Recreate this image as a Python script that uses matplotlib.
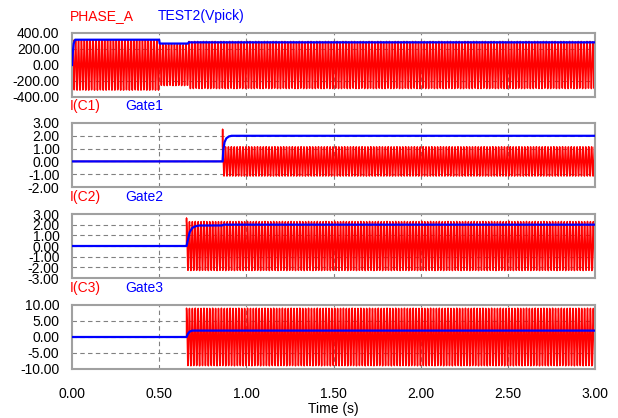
import numpy as np
import matplotlib
matplotlib.use("Agg")
from matplotlib import pyplot as plt

plt.rcParams['font.family'] = ['Liberation Sans', 'DejaVu Sans']
plt.rcParams['font.size'] = 10

# carrier of the oscillating currents / voltage
f_hz = 60.0
t_end = 3.0
step = 0.001

# panel 1: PHASE_A envelope (segment start times, peak values)
phase_seg_t = [0.0, 0.5, 0.665]
phase_seg_amp = [315.0, 258.0, 295.0]
# TEST2(Vpick)
vpick_t = [0.0, 0.004, 0.01, 0.018, 0.5, 0.503, 0.665, 0.67, 3.0]
vpick_v = [0.0, 150.0, 270.0, 316.0, 316.0, 268.0, 268.0, 283.0, 283.0]

# capacitor currents: switch-on time, onset spike, peak value
cap_on = [0.864, 0.657, 0.657]
cap_spike = [2.5, 2.6, 9.0]
cap_amp = [1.15, 2.3, 9.0]

# gate signals
gate1_t = [0.0, 0.864, 0.868, 0.875, 0.885, 0.9, 0.915, 3.0]
gate1_v = [0.0, 0.0, 0.9, 1.5, 1.8, 1.95, 2.0, 2.0]
gate2_t = [0.0, 0.657, 0.665, 0.675, 0.69, 0.71, 0.73, 0.86, 0.87, 3.0]
gate2_v = [0.0, 0.0, 0.6, 1.3, 1.7, 1.86, 1.92, 1.93, 2.0, 2.0]
gate3_t = [0.0, 0.657, 0.665, 0.675, 0.69, 3.0]
gate3_v = [0.0, 0.0, 1.0, 1.7, 2.0, 2.0]

names = [("PHASE_A", "TEST2(Vpick)"), ("I(C1)", "Gate1"), ("I(C2)", "Gate2"), ("I(C3)", "Gate3")]
ylims = [(-400, 400), (-2, 3), (-3, 3), (-10, 10)]
yticks = [[-400, -200, 0, 200, 400], [-2, -1, 0, 1, 2, 3], [-3, -2, -1, 0, 1, 2, 3], [-10, -5, 0, 5, 10]]
xticks = [0.0, 0.5, 1.0, 1.5, 2.0, 2.5, 3.0]

t = np.arange(0, t_end + step / 2, step)

# build red traces
idx = np.searchsorted(phase_seg_t, t, side='right') - 1
phase = np.array(phase_seg_amp)[idx] * np.sin(2 * np.pi * f_hz * t)
reds = [(t, phase)]
for on, spike, amp in zip(cap_on, cap_spike, cap_amp):
    y = np.where(t >= on, amp * np.sin(2 * np.pi * f_hz * (t - on) + np.pi / 2), 0.0)
    k = np.searchsorted(t, on)
    tt = np.insert(t, k, [on, on])
    yy = np.insert(y, k, [0.0, spike])
    reds.append((tt, yy))
blues = [(vpick_t, vpick_v), (gate1_t, gate1_v), (gate2_t, gate2_v), (gate3_t, gate3_v)]

W, H = 618, 418
fig = plt.figure(figsize=(W / 100, H / 100), dpi=100)
tops = [33, 123, 214, 305]
ph = 64
x0, x1 = 72, 595

for i in range(4):
    top = tops[i]
    ax = fig.add_axes([x0 / W, 1 - (top + ph) / H, (x1 - x0) / W, ph / H])
    ax.plot(reds[i][0], reds[i][1], color='red', lw=1.1, zorder=2)
    ax.plot(blues[i][0], blues[i][1], color='blue', lw=1.6, zorder=3)
    ax.set_xlim(0, t_end)
    ax.set_ylim(*ylims[i])
    ax.set_yticks(yticks[i])
    ax.set_yticklabels(["%.2f" % v for v in yticks[i]])
    ax.set_xticks(xticks)
    for v in xticks[1:-1]:
        ax.axvline(v, color='#808080', lw=0.8, ls=(0, (4, 3)), zorder=1)
    for v in yticks[i][1:-1]:
        ax.axhline(v, color='#808080', lw=0.8, ls=(0, (4, 3)), zorder=1)
    ax.tick_params(length=0, pad=9)
    if i < 3:
        ax.set_xticklabels([])
    else:
        ax.set_xticklabels(["%.2f" % v for v in xticks])
        ax.tick_params(axis='x', pad=13)
        ax.set_xlabel("Time (s)", labelpad=1)
    for s in ax.spines.values():
        s.set_color('#a0a0a0')
        s.set_linewidth(1.5)
    fig.text(70 / W, 1 - (top - 17) / H, names[i][0], color='red', va='center', ha='left')
    fig.text((158 if i == 0 else 125) / W, 1 - (top - 17) / H, names[i][1], color='blue', va='center', ha='left')

fig.savefig("out.png", dpi=100)
